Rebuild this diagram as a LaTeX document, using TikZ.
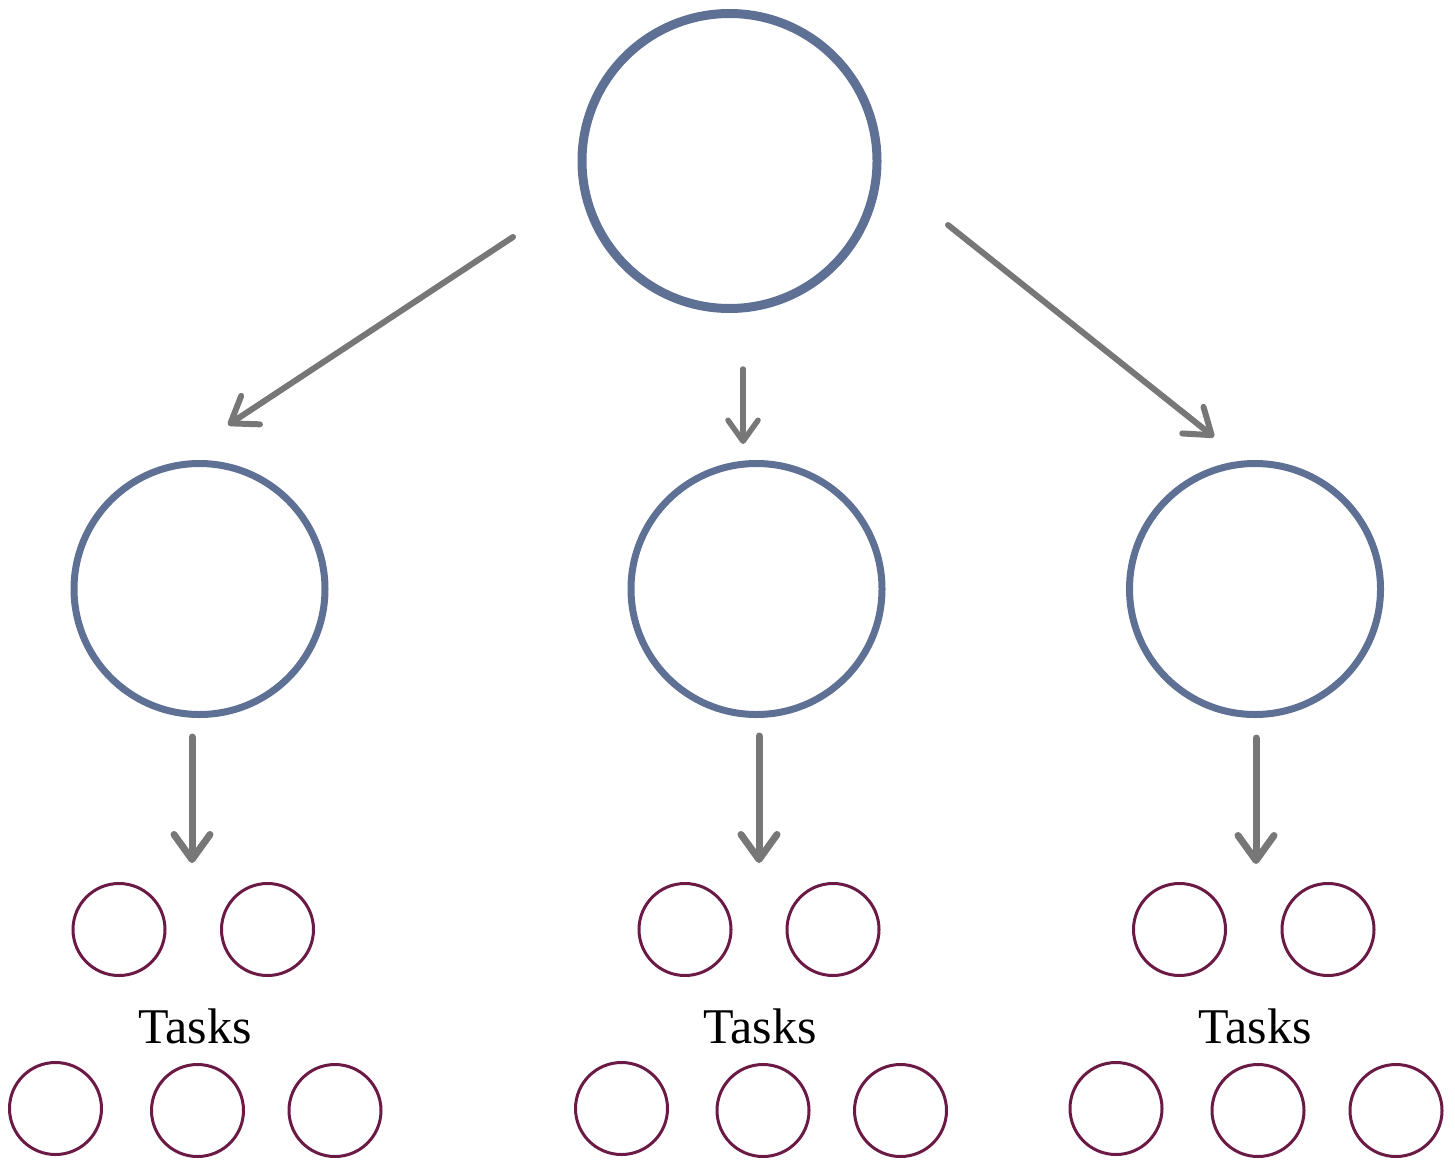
\documentclass[tikz,border=0pt]{standalone}
\usepackage{fontspec}
\setmainfont{Liberation Serif}
\usetikzlibrary{arrows.meta}
\definecolor{topblue}{HTML}{5F7095}
\definecolor{taskred}{HTML}{6B1A45}
\definecolor{arrgray}{HTML}{777777}
\tikzset{
  bigcirc/.style={circle, draw=topblue, line width=9pt, minimum size=295pt, inner sep=0pt},
  midcirc/.style={circle, draw=topblue, line width=7pt, minimum size=251pt, inner sep=0pt},
  taskcirc/.style={circle, draw=taskred, line width=3pt, minimum size=92pt, inner sep=0pt},
  tasklabel/.style={font=\fontsize{50}{56}\selectfont, inner sep=0pt, anchor=base},
  flowarrow/.style={draw=arrgray, line width=6pt, line cap=round,
    -{Straight Barb[length=24pt, width=34pt, round]}},
  downarrow/.style={draw=arrgray, line width=7pt, line cap=round,
    -{Straight Barb[length=25pt, width=36pt, round]}},
  smallarrow/.style={draw=arrgray, line width=5.5pt, line cap=round,
    -{Straight Barb[length=21pt, width=30pt, round]}}
}
\begin{document}
\begin{tikzpicture}[x=1pt, y=-1pt]
\useasboundingbox (0,0) rectangle (1455,1161);
% main circles
\node[bigcirc] (top) at (729.5,161) {};
\node[midcirc] (m1) at (199.5,589) {};
\node[midcirc] (m2) at (756.5,589) {};
\node[midcirc] (m3) at (1255,589) {};
% arrow endpoints
\coordinate (a1s) at (513,237);  \coordinate (a1e) at (228,425);
\coordinate (a2s) at (743,369);  \coordinate (a2e) at (743,444);
\coordinate (a3s) at (948,225);  \coordinate (a3e) at (1214,437);
\coordinate (b1s) at (192,737);  \coordinate (b1e) at (192,863);
\coordinate (b2s) at (759,736);  \coordinate (b2e) at (759,863);
\coordinate (b3s) at (1256,738); \coordinate (b3e) at (1256,864);
\draw[flowarrow] (a1s) -- (a1e);
\draw[smallarrow] (a2s) -- (a2e);
\draw[flowarrow] (a3s) -- (a3e);
\draw[downarrow] (b1s) -- (b1e);
\draw[downarrow] (b2s) -- (b2e);
\draw[downarrow] (b3s) -- (b3e);
% task groups
\node[taskcirc] (t11) at (119,929.5) {};
\node[taskcirc] (t12) at (267.5,929.5) {};
\node[tasklabel] (l1) at (195,1043) {Tasks};
\node[taskcirc] (t13) at (55.5,1108.5) {};
\node[taskcirc] (t14) at (197.5,1110.5) {};
\node[taskcirc] (t15) at (335,1110.5) {};
\node[taskcirc] (t21) at (685,929.5) {};
\node[taskcirc] (t22) at (833,929.5) {};
\node[tasklabel] (l2) at (760,1043) {Tasks};
\node[taskcirc] (t23) at (621.5,1108.5) {};
\node[taskcirc] (t24) at (763,1110.5) {};
\node[taskcirc] (t25) at (900.5,1110.5) {};
\node[taskcirc] (t31) at (1179.5,929.5) {};
\node[taskcirc] (t32) at (1328,929.5) {};
\node[tasklabel] (l3) at (1255,1043) {Tasks};
\node[taskcirc] (t33) at (1116,1108.5) {};
\node[taskcirc] (t34) at (1258,1110.5) {};
\node[taskcirc] (t35) at (1396,1110.5) {};
\end{tikzpicture}
\end{document}
